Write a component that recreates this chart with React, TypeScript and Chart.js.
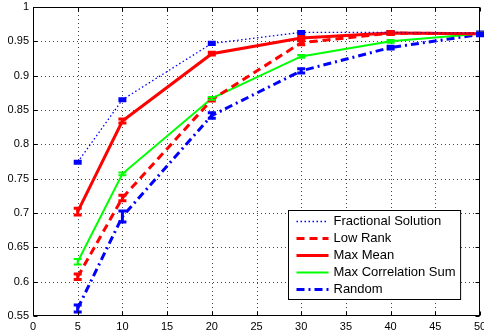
import React, { useEffect, useRef } from "react";
import { Chart, registerables } from "chart.js";

Chart.register(...registerables);

const xValues = [5, 10, 20, 30, 40, 50];
const xTicks = [0, 5, 10, 15, 20, 25, 30, 35, 40, 45, 50];
const yTicks = [0.55, 0.6, 0.65, 0.7, 0.75, 0.8, 0.85, 0.9, 0.95, 1];

const fractional = [0.774, 0.865, 0.947, 0.963, 0.963, 0.962];
const fractionalErr = [0.0015, 0.0015, 0.0015, 0.0015, 0.0015, 0.0015];
const lowRank = [0.607, 0.722, 0.865, 0.948, 0.962, 0.961];
const lowRankErr = [0.004, 0.004, 0.002, 0.003, 0.002, 0.002];
const maxMean = [0.702, 0.834, 0.932, 0.955, 0.962, 0.961];
const maxMeanErr = [0.005, 0.003, 0.002, 0.002, 0.002, 0.002];
const maxCorr = [0.629, 0.757, 0.867, 0.928, 0.95, 0.961];
const maxCorrErr = [0.004, 0.002, 0.002, 0.002, 0.002, 0.002];
const random = [0.561, 0.695, 0.842, 0.907, 0.941, 0.96];
const randomErr = [0.005, 0.008, 0.004, 0.003, 0.002, 0.002];

const seriesNames = ["Fractional Solution", "Low Rank", "Max Mean", "Max Correlation Sum", "Random"];

const FONT = "'Liberation Sans', Arial, Helvetica, sans-serif";

type Series = {
  label: string;
  data: number[];
  err: number[];
  color: string;
  width: number;
  dash: number[];
  errWidth: number;
};

const series: Series[] = [
  { label: seriesNames[0], data: fractional, err: fractionalErr, color: "#0000ff", width: 1.3, dash: [1.5, 2.5], errWidth: 3 },
  { label: seriesNames[1], data: lowRank, err: lowRankErr, color: "#ff0000", width: 3, dash: [8, 5], errWidth: 3 },
  { label: seriesNames[2], data: maxMean, err: maxMeanErr, color: "#ff0000", width: 3, dash: [], errWidth: 3 },
  { label: seriesNames[3], data: maxCorr, err: maxCorrErr, color: "#00ff00", width: 2, dash: [], errWidth: 2 },
  { label: seriesNames[4], data: random, err: randomErr, color: "#0000ff", width: 3, dash: [8, 4, 2, 4], errWidth: 3 },
];

const axesPlugin = {
  id: "matlabAxes",
  beforeDatasetsDraw(chart: any) {
    const { ctx, chartArea: a, scales } = chart;
    ctx.save();
    ctx.strokeStyle = "#444";
    ctx.lineWidth = 1;
    ctx.setLineDash([1, 3]);
    for (const v of xTicks) {
      const x = Math.round(scales.x.getPixelForValue(v)) + 0.5;
      if (x <= a.left + 1 || x >= a.right - 1) continue;
      ctx.beginPath();
      ctx.moveTo(x, a.top);
      ctx.lineTo(x, a.bottom);
      ctx.stroke();
    }
    for (const v of yTicks) {
      const y = Math.round(scales.y.getPixelForValue(v)) + 0.5;
      if (y <= a.top + 1 || y >= a.bottom - 1) continue;
      ctx.beginPath();
      ctx.moveTo(a.left, y);
      ctx.lineTo(a.right, y);
      ctx.stroke();
    }
    ctx.restore();
  },
  afterDatasetsDraw(chart: any) {
    const { ctx, chartArea: a, scales } = chart;
    chart.data.datasets.forEach((ds: any, i: number) => {
      const meta = chart.getDatasetMeta(i);
      const s = series[i];
      ctx.save();
      ctx.strokeStyle = s.color;
      ctx.lineWidth = s.errWidth;
      ctx.setLineDash([]);
      meta.data.forEach((pt: any, j: number) => {
        const x = pt.x;
        const yTop = scales.y.getPixelForValue(s.data[j] + s.err[j]);
        const yBot = scales.y.getPixelForValue(s.data[j] - s.err[j]);
        ctx.beginPath();
        ctx.moveTo(x, yTop);
        ctx.lineTo(x, yBot);
        ctx.moveTo(x - 4, yTop);
        ctx.lineTo(x + 4, yTop);
        ctx.moveTo(x - 4, yBot);
        ctx.lineTo(x + 4, yBot);
        ctx.stroke();
      });
      ctx.restore();
    });
    ctx.save();
    ctx.strokeStyle = "#000";
    ctx.lineWidth = 1;
    ctx.setLineDash([]);
    const L = Math.round(a.left) + 0.5;
    const R = Math.round(a.right) - 0.5;
    const T = Math.round(a.top) + 0.5;
    const B = Math.round(a.bottom) - 0.5;
    ctx.strokeRect(L, T, R - L, B - T);
    ctx.beginPath();
    for (const v of xTicks) {
      const x = Math.round(scales.x.getPixelForValue(v)) + 0.5;
      ctx.moveTo(x, B);
      ctx.lineTo(x, B - 4);
      ctx.moveTo(x, T);
      ctx.lineTo(x, T + 4);
    }
    for (const v of yTicks) {
      const y = Math.round(scales.y.getPixelForValue(v)) + 0.5;
      ctx.moveTo(L, y);
      ctx.lineTo(L + 4, y);
      ctx.moveTo(R, y);
      ctx.lineTo(R - 4, y);
    }
    ctx.stroke();
    ctx.restore();
  },
  afterDraw(chart: any) {
    const { ctx, chartArea: a } = chart;
    ctx.save();
    ctx.font = `13px ${FONT}`;
    let maxW = 0;
    for (const s of series) maxW = Math.max(maxW, ctx.measureText(s.label).width);
    const rowH = 17;
    const textOffset = 45;
    const w = textOffset + maxW + 5;
    const h = rowH * series.length + 4;
    const right = a.right - 20;
    const bottom = a.bottom - 17;
    const left = Math.round(right - w) + 0.5;
    const top = Math.round(bottom - h) + 0.5;
    ctx.fillStyle = "#fff";
    ctx.fillRect(left, top, w, h);
    ctx.strokeStyle = "#000";
    ctx.lineWidth = 1;
    ctx.setLineDash([]);
    ctx.strokeRect(left, top, w, h);
    series.forEach((s, i) => {
      const cy = top + 11 + i * rowH;
      ctx.save();
      ctx.strokeStyle = s.color;
      ctx.lineWidth = s.width;
      ctx.setLineDash(s.dash);
      ctx.beginPath();
      ctx.moveTo(left + 8, cy);
      ctx.lineTo(left + 40, cy);
      ctx.stroke();
      ctx.restore();
      ctx.fillStyle = "#000";
      ctx.textBaseline = "middle";
      ctx.textAlign = "left";
      ctx.fillText(s.label, left + textOffset, cy);
    });
    ctx.restore();
  },
};

export default function App() {
  const ref = useRef<HTMLCanvasElement | null>(null);
  useEffect(() => {
    document.body.style.margin = "0";
    if (!ref.current) return;
    const chart = new Chart(ref.current, {
      type: "line",
      data: {
        datasets: series.map((s) => ({
          label: s.label,
          data: xValues.map((x, i) => ({ x, y: s.data[i] })),
          borderColor: s.color,
          backgroundColor: s.color,
          borderWidth: s.width,
          borderDash: s.dash,
          pointRadius: 0,
          tension: 0,
          fill: false,
        })),
      },
      options: {
        responsive: false,
        animation: false,
        events: [],
        layout: { padding: { top: 7, right: 4, left: 0, bottom: 0 } },
        plugins: { legend: { display: false }, tooltip: { enabled: false } },
        scales: {
          x: {
            type: "linear",
            min: 0,
            max: 50,
            afterBuildTicks: (s: any) => {
              s.ticks = xTicks.map((v) => ({ value: v }));
            },
            afterFit: (s: any) => {
              s.height = 19;
              s.paddingLeft = 0;
              s.paddingRight = 0;
            },
            grid: { display: false, drawTicks: false },
            border: { display: false },
            ticks: {
              padding: 4,
              color: "#000",
              font: { family: FONT, size: 11 },
              maxRotation: 0,
              autoSkip: false,
              callback: (v: any) => String(v),
            },
          },
          y: {
            type: "linear",
            min: 0.55,
            max: 1,
            afterBuildTicks: (s: any) => {
              s.ticks = yTicks.map((v) => ({ value: v }));
            },
            afterFit: (s: any) => {
              s.width = 33;
              s.paddingTop = 0;
              s.paddingBottom = 0;
            },
            grid: { display: false, drawTicks: false },
            border: { display: false },
            ticks: {
              padding: 4,
              color: "#000",
              font: { family: FONT, size: 11 },
              autoSkip: false,
              callback: (v: any) => String(Math.round(Number(v) * 100) / 100),
            },
          },
        },
      },
      plugins: [axesPlugin],
    } as any);
    return () => chart.destroy();
  }, []);
  return <canvas ref={ref} width={484} height={335} style={{ display: "block" }} />;
}
